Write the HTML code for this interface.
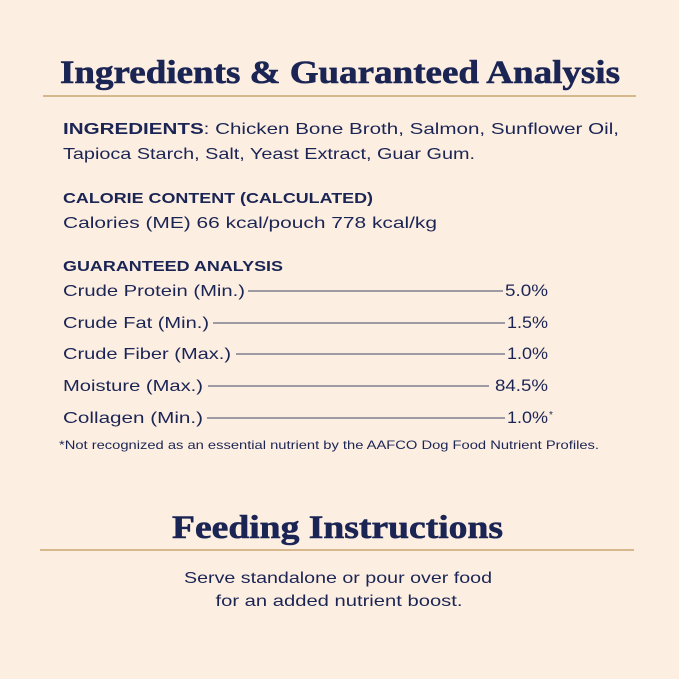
<!DOCTYPE html>
<html><head><meta charset="utf-8"><style>html,body{margin:0;padding:0;background:#fdeee2}svg{display:block}</style></head>
<body>
<svg width="679" height="679" viewBox="0 0 679 679" xmlns="http://www.w3.org/2000/svg">
<rect width="679" height="679" fill="#fdeee2"/>
<g fill="#1b2554">
<text x="60" y="83" font-family="Liberation Serif, serif" font-weight="bold" font-size="33" textLength="560" lengthAdjust="spacingAndGlyphs" stroke="#1b2554" stroke-width="0.6">Ingredients &amp; Guaranteed Analysis</text>
<line x1="43" y1="96" x2="636" y2="96" stroke="#c9a670" stroke-width="1.5"/>
<g font-family="Liberation Sans, sans-serif" font-size="16">
<text x="63" y="134" textLength="556" lengthAdjust="spacingAndGlyphs"><tspan font-weight="bold">INGREDIENTS</tspan>: Chicken  Bone  Broth,  Salmon,  Sunflower  Oil,</text>
<text x="63" y="159" textLength="412" lengthAdjust="spacingAndGlyphs">Tapioca Starch, Salt, Yeast Extract, Guar Gum.</text>
<text x="63" y="203" font-weight="bold" font-size="15" textLength="310" lengthAdjust="spacingAndGlyphs">CALORIE CONTENT (CALCULATED)</text>
<text x="63" y="228" textLength="374" lengthAdjust="spacingAndGlyphs">Calories (ME) 66 kcal/pouch  778 kcal/kg</text>
<text x="63" y="271" font-weight="bold" font-size="15" textLength="220" lengthAdjust="spacingAndGlyphs">GUARANTEED ANALYSIS</text>
<text x="63" y="296" textLength="182" lengthAdjust="spacingAndGlyphs">Crude Protein (Min.)</text>
<text x="505" y="296" font-size="17" textLength="43" lengthAdjust="spacingAndGlyphs">5.0%</text>
<text x="63" y="328" textLength="146" lengthAdjust="spacingAndGlyphs">Crude Fat (Min.)</text>
<text x="507" y="328" font-size="17" textLength="41" lengthAdjust="spacingAndGlyphs">1.5%</text>
<text x="63" y="359" textLength="168" lengthAdjust="spacingAndGlyphs">Crude Fiber (Max.)</text>
<text x="507" y="359" font-size="17" textLength="41" lengthAdjust="spacingAndGlyphs">1.0%</text>
<text x="63" y="391" textLength="140" lengthAdjust="spacingAndGlyphs">Moisture (Max.)</text>
<text x="495" y="391" font-size="17" textLength="53" lengthAdjust="spacingAndGlyphs">84.5%</text>
<text x="63" y="423" textLength="140" lengthAdjust="spacingAndGlyphs">Collagen (Min.)</text>
<text x="507" y="423" font-size="17" textLength="41" lengthAdjust="spacingAndGlyphs">1.0%</text>
<text x="549" y="418" font-size="10">*</text>
<text x="59" y="449" font-size="12" textLength="540" lengthAdjust="spacingAndGlyphs">*Not recognized as an essential nutrient by the AAFCO Dog Food Nutrient Profiles.</text>
</g>
<g stroke="#3d4566" stroke-width="1">
<line x1="248" y1="291" x2="503" y2="291"/>
<line x1="213" y1="323" x2="505" y2="323"/>
<line x1="236" y1="354" x2="505" y2="354"/>
<line x1="208" y1="386" x2="489" y2="386"/>
<line x1="207" y1="418" x2="505" y2="418"/>
</g>
<text x="172" y="538" font-family="Liberation Serif, serif" font-weight="bold" font-size="33" textLength="331" lengthAdjust="spacingAndGlyphs" stroke="#1b2554" stroke-width="0.6">Feeding Instructions</text>
<line x1="40" y1="550" x2="634" y2="550" stroke="#c9a670" stroke-width="1.5"/>
<g font-family="Liberation Sans, sans-serif" font-size="16" text-anchor="middle">
<text x="338" y="583" textLength="308" lengthAdjust="spacingAndGlyphs">Serve standalone or pour over food</text>
<text x="339" y="606" textLength="247" lengthAdjust="spacingAndGlyphs">for an added nutrient boost.</text>
</g>
</g>
</svg>
</body></html>
